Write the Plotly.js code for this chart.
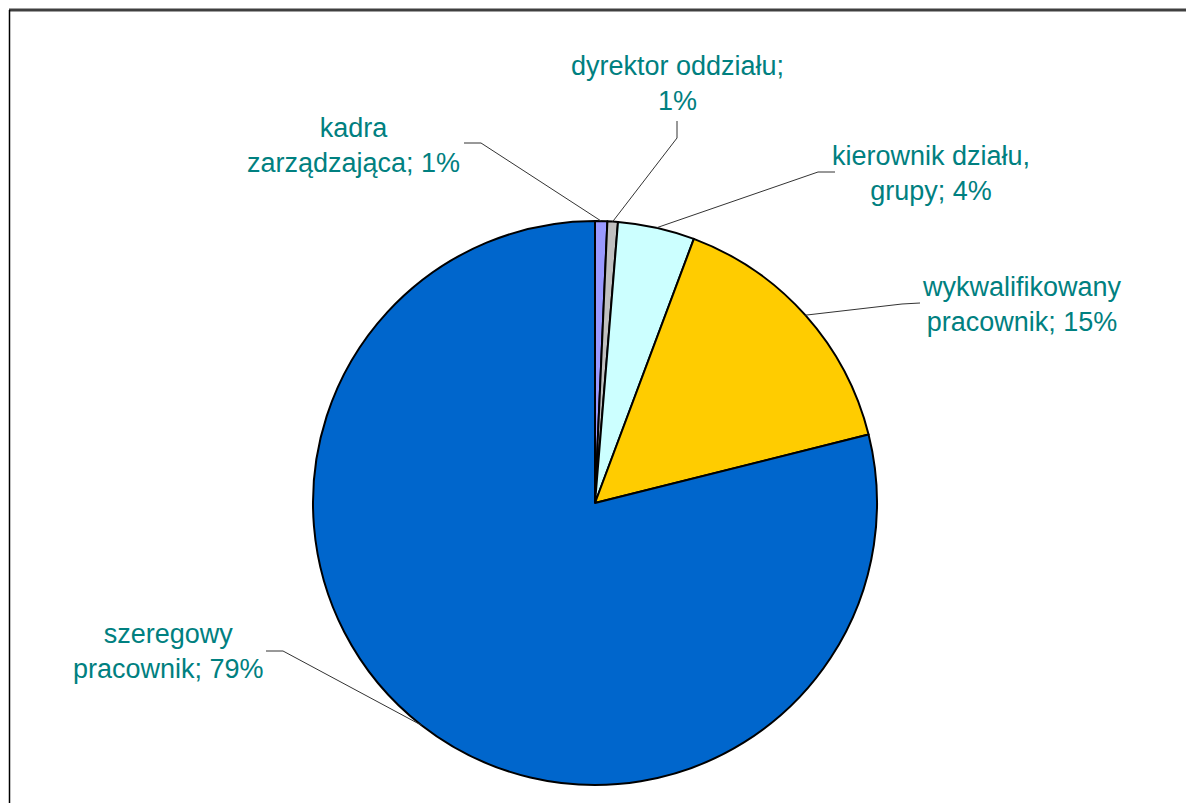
<!DOCTYPE html>
<html>
<head>
<meta charset="utf-8">
<script src="https://cdn.plot.ly/plotly-3.0.1.min.js"></script>
<style>html,body{margin:0;padding:0;background:#fff;}#chart{width:1186px;height:803px;}</style>
</head>
<body>
<div id="chart"></div>
<script>
// ---- data ----
const categories = ["kadra zarządzająca", "dyrektor oddziału", "kierownik działu, grupy", "wykwalifikowany pracownik", "szeregowy pracownik"];
const displayLines = [["kadra", "zarządzająca;"], ["dyrektor oddziału;", ""], ["kierownik działu,", "grupy;"], ["wykwalifikowany", "pracownik;"], ["szeregowy", "pracownik;"]];
const values = [0.7, 0.6, 4.4, 15.4, 78.9];
const colors = ["#9999FF", "#C0C0C0", "#CCFFFF", "#FFCC00", "#0066CC"];

// ---- layout geometry (pixels) ----
const W = 1186, H = 803;
const cx = 595, cy = 503, R = 282;
const labelPos = [[353, 145], [677, 84], [931, 174], [1022, 305], [168, 651]];
const leaderStart = [[464, 143], [677, 121], [835, 172], [920, 303], [266, 651]];
const leaderElbow = [[481, 143], [677, 138], [818, 172], [902, 304], [283, 651]];

const px = x => x / W;
const py = y => 1 - y / H;

const total = values.reduce((a, b) => a + b, 0);
const annotations = [];
const shapes = [];
let cum = 0;
values.forEach((v, i) => {
  const pct = Math.round(v / total * 100) + "%";
  const l = displayLines[i];
  const text = l[1] ? l[0] + "<br>" + l[1] + " " + pct : l[0] + "<br>" + pct;
  annotations.push({
    x: px(labelPos[i][0]), y: py(labelPos[i][1]), xref: "paper", yref: "paper",
    text: text, showarrow: false, xanchor: "center", yanchor: "middle", align: "center",
    font: {family: "Liberation Sans, Arial, sans-serif", size: 27, color: "#008080"}
  });
  const mid = (cum + v / 2) / total * 2 * Math.PI;
  cum += v;
  const ax = cx + R * Math.sin(mid), ay = cy - R * Math.cos(mid);
  shapes.push({
    type: "path", xref: "paper", yref: "paper",
    path: "M " + px(leaderStart[i][0]) + "," + py(leaderStart[i][1]) +
          " L " + px(leaderElbow[i][0]) + "," + py(leaderElbow[i][1]) +
          " L " + px(ax) + "," + py(ay),
    line: {color: "#333333", width: 1}
  });
});

// frame
shapes.push({type: "line", xref: "paper", yref: "paper", x0: px(9), x1: px(1190), y0: py(10), y1: py(10), line: {color: "#404040", width: 3}});
shapes.push({type: "line", xref: "paper", yref: "paper", x0: px(9.5), x1: px(9.5), y0: py(10), y1: py(810), line: {color: "#000000", width: 1.5}});

const trace = {
  type: "pie",
  labels: categories,
  values: values,
  sort: false,
  direction: "clockwise",
  rotation: 0,
  textinfo: "none",
  hoverinfo: "label+percent",
  marker: {colors: colors, line: {color: "#000000", width: 2}},
  domain: {x: [px(cx - R), px(cx + R)], y: [py(cy + R), py(cy - R)]},
  showlegend: false
};

const layout = {
  width: W, height: H,
  margin: {l: 0, r: 0, t: 0, b: 0},
  paper_bgcolor: "#ffffff",
  showlegend: false,
  annotations: annotations,
  shapes: shapes
};

Plotly.newPlot("chart", [trace], layout, {displayModeBar: false, staticPlot: true});
</script>
</body>
</html>
